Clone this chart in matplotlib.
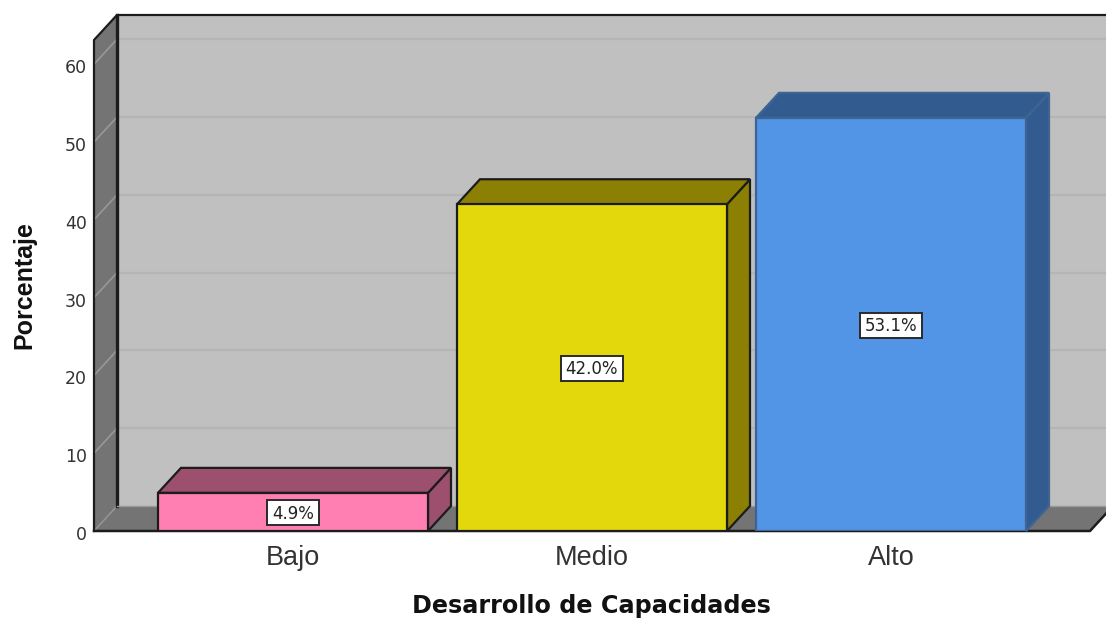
import matplotlib
matplotlib.use("Agg")
import matplotlib.pyplot as plt
from matplotlib.patches import Polygon, Rectangle
from matplotlib.transforms import ScaledTranslation

categories = ["Bajo", "Medio", "Alto"]
values = [4.9, 42.0, 53.1]
labels = ["4.9%", "42.0%", "53.1%"]
front_colors = ["#FF7FB2", "#E3D80C", "#5294E6"]
top_colors = ["#9C506E", "#8B8004", "#325B8F"]
edge_colors = ["#1c1c1c", "#1c1c1c", "#3f6494"]
box_widths = [52, 62, 62]
yticks = [0, 10, 20, 30, 40, 50, 60]

W, H = 1106, 619
L, R, B, T = 94, 1090, 531, 40
PX_UNIT = 7.78
CAT_STEP = 299
BAR_W = 270 / CAT_STEP
DX, DY = 23, 25

plt.rcParams['font.family'] = ['Liberation Sans', 'DejaVu Sans']
fig = plt.figure(figsize=(W / 100, H / 100), dpi=100, facecolor="white")
ax = fig.add_axes([L / W, 1 - B / H, (R - L) / W, (B - T) / H])
ax.set_xlim((L - 293) / CAT_STEP, (R - 293) / CAT_STEP)
ax.set_ylim(0, (B - T) / PX_UNIT)
ax.patch.set_visible(False)
for s in ax.spines.values():
    s.set_visible(False)

ox = DX / CAT_STEP
oy = DY / PX_UNIT
x0, x1 = ax.get_xlim()
y0, y1 = ax.get_ylim()
EDGE = "#1c1c1c"


def poly(pts, fc, ec=EDGE, lw=1.6, z=1):
    ax.add_patch(Polygon(pts, closed=True, facecolor=fc, edgecolor=ec, linewidth=lw,
                         zorder=z, clip_on=False, joinstyle="miter"))


# back wall, side wall, floor
poly([(x0 + ox, y0 + oy), (x1 + ox, y0 + oy), (x1 + ox, y1 + oy), (x0 + ox, y1 + oy)], "#C0C0C0", ec="none", lw=0, z=1)
poly([(x0, y0), (x0 + ox, y0 + oy), (x0 + ox, y1 + oy), (x0, y1)], "#747474", ec="none", lw=0, z=1)
poly([(x0, y0), (x1, y0), (x1 + ox, y0 + oy), (x0 + ox, y0 + oy)], "#747474", ec="none", lw=0, z=1)

# gridlines on wall
for v in yticks[1:]:
    ax.plot([x0 + ox, x1 + ox], [v + oy, v + oy], color="#B5B5B5", lw=1.6, zorder=2, clip_on=False)
    ax.plot([x0, x0 + ox], [v, v + oy], color="#989898", lw=1.2, zorder=2, clip_on=False)
ax.plot([x0, x0 + ox], [0, oy], color="#989898", lw=1.0, zorder=2, clip_on=False)

# frame
ax.plot([x0, x0, x0 + ox, x1 + ox], [y0, y1, y1 + oy, y1 + oy], color=EDGE, lw=1.6, zorder=3, clip_on=False)
ax.plot([x0 + ox, x0 + ox], [y0 + oy, y1 + oy], color=EDGE, lw=2.4, zorder=3, clip_on=False)
ax.plot([x0 + ox, x1 + ox], [oy, oy], color="#9a9a9a", lw=1.0, zorder=3, clip_on=False)
ax.plot([x0, x1, x1 + ox], [0, 0, oy], color=EDGE, lw=1.8, zorder=3, clip_on=False)

# bars
for i, (v, fc, tc, ec, lab, bw) in enumerate(zip(values, front_colors, top_colors, edge_colors, labels, box_widths)):
    a, b = i - BAR_W / 2, i + BAR_W / 2
    poly([(b, 0), (b + ox, oy), (b + ox, v + oy), (b, v)], tc, ec=ec, z=4)
    poly([(a, v), (b, v), (b + ox, v + oy), (a + ox, v + oy)], tc, ec=ec, z=4)
    ax.bar(i, v, width=BAR_W, color=fc, edgecolor=ec, linewidth=1.6, zorder=5)
    w_u, h_u = bw / CAT_STEP, 25 / PX_UNIT
    ax.add_patch(Rectangle((i - w_u / 2, v / 2 - h_u / 2 - 0.1), w_u, h_u, facecolor="white",
                           edgecolor="#2a2a2a", linewidth=1.4, zorder=6))
    ax.text(i, v / 2 + 0.05, lab, ha="center", va="center_baseline", fontsize=12, color="#222222", zorder=7,
            family="DejaVu Sans")

ax.set_xticks(range(len(categories)), categories)
ax.set_yticks(yticks)
ax.tick_params(axis="x", length=0, pad=10, labelsize=19.5, labelcolor="#333333")
ax.tick_params(axis="y", length=0, pad=5, labelsize=12.5, labelcolor="#333333")
for t in ax.get_yticklabels():
    t.set_family("DejaVu Sans")
    t.set_va("center_baseline")
    t.set_transform(t.get_transform() + ScaledTranslation(0, -2 / 100, fig.dpi_scale_trans))

fig.text(591 / W, 1 - 606 / H, "Desarrollo de Capacidades", ha="center", va="center",
         fontsize=17.2, fontweight="bold", color="#111111", family="DejaVu Sans")
fig.text(24 / W, 1 - 285 / H, "Porcentaje", ha="center", va="center", rotation=90,
         fontsize=18, fontweight="bold", color="#111111")

fig.savefig("out.png", dpi=100)
